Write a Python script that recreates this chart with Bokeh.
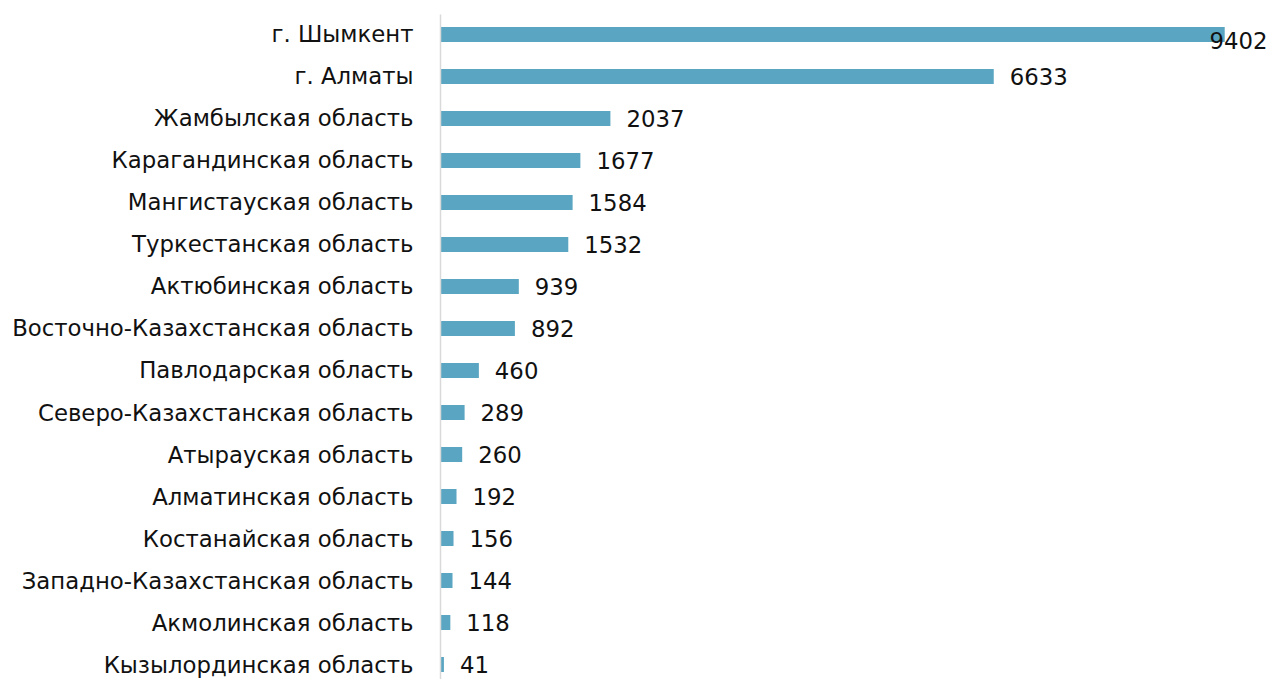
import numpy as np
from bokeh.plotting import figure
from bokeh.models import Range1d, FixedTicker, ColumnDataSource
from bokeh.core.properties import value
from bokeh.embed import file_html
from bokeh.resources import INLINE

regions = [
    "г. Шымкент",
    "г. Алматы",
    "Жамбылская область",
    "Карагандинская область",
    "Мангистауская область",
    "Туркестанская область",
    "Актюбинская область",
    "Восточно-Казахстанская область",
    "Павлодарская область",
    "Северо-Казахстанская область",
    "Атырауская область",
    "Алматинская область",
    "Костанайская область",
    "Западно-Казахстанская область",
    "Акмолинская область",
    "Кызылординская область",
]
counts = [9402, 6633, 2037, 1677, 1584, 1532, 939, 892, 460, 289, 260, 192, 156, 144, 118, 41]

FONT = "DejaVu Sans"
BAR = "#5aa6c2"
FS = "22.8px"

ypos = list(range(len(regions)))
xmax = 9915

p = figure(width=1267, height=679, output_backend="svg", toolbar_location=None,
           x_range=Range1d(0, xmax), y_range=Range1d(len(regions) - 1 + 0.357, -0.476),
           x_axis_location=None, min_border_left=440, min_border_right=0,
           min_border_top=14, min_border_bottom=0)
p.outline_line_color = None
p.grid.visible = False
p.background_fill_color = "white"
p.border_fill_color = "white"

src = ColumnDataSource(dict(y=ypos, v=counts))
p.hbar(y="y", left=0, right="v", height=0.36, source=src, fill_color=BAR, line_color=None)

imax = int(np.argmax(counts))
idx = [i for i in range(len(counts)) if i != imax]
others = ColumnDataSource(dict(y=[ypos[i] for i in idx],
                               v=[counts[i] for i in idx],
                               lbl=[str(counts[i]) for i in idx]))
p.text(x="v", y="y", text="lbl", source=others, x_offset=16, text_align="left",
       text_baseline="middle", text_font=value(FONT), text_font_size=FS, text_color="#111111")
p.text(x=[xmax], y=[ypos[imax]], text=[str(counts[imax])], text_align="right", y_offset=6,
       text_baseline="middle", text_font=value(FONT), text_font_size=FS, text_color="#111111")

ax = p.yaxis[0]
ax.ticker = FixedTicker(ticks=ypos)
ax.major_label_overrides = {i: r for i, r in enumerate(regions)}
ax.major_tick_line_color = None
ax.minor_tick_line_color = None
ax.major_tick_out = 0
ax.major_tick_in = 0
ax.major_label_standoff = 27
ax.axis_line_color = "#d9d9d9"
ax.axis_line_width = 1.5
ax.major_label_text_font = FONT
ax.major_label_text_font_size = FS
ax.major_label_text_color = "#111111"

open("out.html", "w").write(file_html(p, INLINE))
